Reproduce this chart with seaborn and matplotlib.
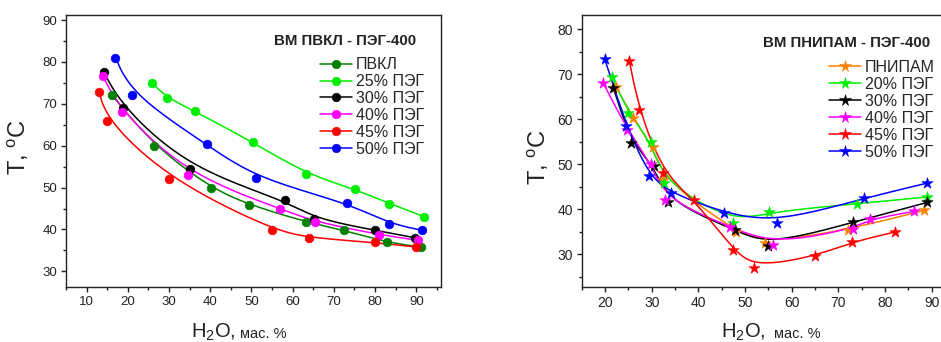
import numpy as np
import matplotlib
matplotlib.use("Agg")
import matplotlib.pyplot as plt
from matplotlib.lines import Line2D
from matplotlib.ticker import MultipleLocator
import seaborn as sns

# ---- left panel: ВМ ПВКЛ - ПЭГ-400 ----
pvkl_x = [16.1, 26.3, 40.1, 49.4, 63.2, 72.5, 83.0, 91.2]
pvkl_y = [72.1, 60.0, 49.9, 45.9, 41.8, 39.8, 36.9, 35.8]
peg25_x = [25.8, 29.6, 36.3, 50.4, 63.2, 75.1, 83.5, 91.8]
peg25_y = [75.0, 71.4, 68.2, 60.8, 53.3, 49.6, 46.2, 43.1]
l_peg30_x = [14.2, 18.9, 35.1, 58.1, 65.2, 80.1, 89.8]
l_peg30_y = [77.5, 68.9, 54.5, 47.0, 42.6, 39.8, 38.0]
l_peg40_x = [13.9, 18.5, 34.5, 56.9, 65.4, 80.9, 90.4]
l_peg40_y = [76.6, 68.1, 53.1, 45.0, 41.8, 38.8, 37.4]
l_peg45_x = [13.0, 15.0, 30.0, 55.0, 64.0, 80.1, 90.0]
l_peg45_y = [72.9, 65.9, 52.0, 39.9, 38.0, 36.9, 35.8]
l_peg50_x = [17.0, 21.0, 39.1, 51.1, 73.3, 83.4, 91.5]
l_peg50_y = [81.0, 72.2, 60.3, 52.2, 46.4, 41.4, 39.8]

# ---- right panel: ВМ ПНИПАМ - ПЭГ-400 ----
pnipam_x = [22.4, 26.1, 30.2, 32.5, 48.0, 54.3, 72.0, 88.4]
pnipam_y = [67.1, 60.2, 53.9, 46.5, 35.0, 32.4, 35.4, 39.7]
peg20_x = [21.6, 25.0, 29.9, 32.7, 47.4, 55.2, 74.1, 89.1]
peg20_y = [69.3, 61.3, 55.0, 45.8, 37.0, 39.4, 41.2, 42.7]
r_peg30_x = [21.8, 25.6, 30.5, 33.4, 47.9, 54.9, 73.2, 89.1]
r_peg30_y = [66.9, 54.8, 49.7, 41.6, 35.4, 31.9, 37.1, 41.5]
r_peg40_x = [19.6, 24.8, 29.9, 32.9, 46.8, 55.9, 73.1, 76.8, 86.3]
r_peg40_y = [68.1, 57.6, 50.1, 42.1, 36.1, 32.1, 35.6, 37.8, 39.5]
r_peg45_x = [25.2, 27.3, 32.4, 39.1, 47.5, 51.9, 65.0, 73.0, 82.1]
r_peg45_y = [73.0, 62.1, 48.0, 42.1, 31.0, 27.0, 29.5, 32.7, 34.9]
r_peg50_x = [19.9, 24.6, 29.5, 34.1, 45.6, 56.8, 75.4, 89.1]
r_peg50_y = [73.5, 58.4, 47.3, 43.6, 39.1, 37.0, 42.4, 45.8]

left_labels = ["ПВКЛ", "25% ПЭГ", "30% ПЭГ", "40% ПЭГ", "45% ПЭГ", "50% ПЭГ"]
left_colors = ["#008000", "#00ee00", "#000000", "#ff00ff", "#ff0000", "#0000ff"]
right_labels = ["ПНИПАМ", "20% ПЭГ", "30% ПЭГ", "40% ПЭГ", "45% ПЭГ", "50% ПЭГ"]
right_colors = ["#ff8000", "#00ee00", "#000000", "#ff00ff", "#ff0000", "#0000ff"]

left_series = [(pvkl_x, pvkl_y), (peg25_x, peg25_y), (l_peg30_x, l_peg30_y),
               (l_peg40_x, l_peg40_y), (l_peg45_x, l_peg45_y), (l_peg50_x, l_peg50_y)]
right_series = [(pnipam_x, pnipam_y), (peg20_x, peg20_y), (r_peg30_x, r_peg30_y),
                (r_peg40_x, r_peg40_y), (r_peg45_x, r_peg45_y), (r_peg50_x, r_peg50_y)]


def bspline(xs, ys, n=40):
    """Uniform cubic B-spline using the data points as control points (ends clamped)."""
    p = np.column_stack([xs, ys]).astype(float)
    p = np.vstack([p[:1], p[:1], p, p[-1:], p[-1:]])
    t = np.linspace(0, 1, n)[:, None]
    b0 = (1 - t) ** 3
    b1 = 3 * t ** 3 - 6 * t ** 2 + 4
    b2 = -3 * t ** 3 + 3 * t ** 2 + 3 * t + 1
    b3 = t ** 3
    segs = []
    for i in range(len(p) - 3):
        segs.append((b0 * p[i] + b1 * p[i + 1] + b2 * p[i + 2] + b3 * p[i + 3]) / 6)
    c = np.vstack(segs)
    return c[:, 0], c[:, 1]


sns.set_style("ticks")
plt.rcParams["font.family"] = ["Liberation Sans", "DejaVu Sans"]
plt.rcParams["mathtext.fontset"] = "custom"
plt.rcParams["mathtext.rm"] = "Liberation Sans"
plt.rcParams["mathtext.it"] = "Liberation Sans"

fig = plt.figure(figsize=(9.41, 3.42), dpi=100)
W, H = 941.0, 342.0
ax1 = fig.add_axes([66 / W, (H - 287.3) / H, 375 / W, 272.3 / H])
ax2 = fig.add_axes([581.7 / W, (H - 287.3) / H, 373.3 / W, 272.3 / H])

spine_col = "#222222"


def draw(ax, series, colors, marker, ms, mew):
    for (xs, ys), col in zip(series, colors):
        cx, cy = bspline(xs, ys)
        sns.lineplot(x=cx, y=cy, ax=ax, color=col, lw=1.1, sort=False,
                     estimator=None, zorder=2)
        sns.scatterplot(x=xs, y=ys, ax=ax, color=col, marker=marker, s=ms ** 2,
                        edgecolor=col, linewidth=mew, zorder=3)


draw(ax1, left_series, left_colors, "o", 6.2, 0.5)
draw(ax2, right_series, right_colors, "*", 8.5, 0.4)

ax1.set_xlim(5, 96)
ax1.set_ylim(26.2, 91.2)
ax1.xaxis.set_minor_locator(MultipleLocator(5))
ax1.yaxis.set_major_locator(MultipleLocator(10))
ax1.yaxis.set_minor_locator(MultipleLocator(5))
ax1.set_xticks(range(10, 91, 10))

ax2.set_xlim(15, 95)
ax2.set_ylim(22.6, 83.2)
ax2.xaxis.set_minor_locator(MultipleLocator(5))
ax2.yaxis.set_minor_locator(MultipleLocator(5))
ax2.set_xticks(range(20, 91, 10))
ax2.set_yticks(range(30, 81, 10))

for ax, fs in ((ax1, 9.5), (ax2, 10)):
    for sp in ax.spines.values():
        sp.set_color(spine_col)
        sp.set_linewidth(1.0)
        sp.set_visible(True)
    ax.tick_params(which="major", direction="out", length=3.5, width=1.0,
                   color=spine_col, labelsize=fs, labelcolor="#222222", pad=3)
    ax.tick_params(which="minor", direction="out", length=2.0, width=1.0,
                   color=spine_col)
    ax.tick_params(top=False, right=False, which="both")
    ax.set_xlabel("")
    ax.set_ylabel("")


def legend(ax, labels, colors, marker, ms, anchor):
    handles = [Line2D([0], [0], color=c, lw=1.1, marker=marker, ms=ms,
                      markeredgecolor=c, markeredgewidth=0.4) for c in colors]
    ax.legend(handles, labels, loc="upper left", bbox_to_anchor=anchor,
              frameon=False, borderpad=0, handlelength=2.0, handletextpad=0.25,
              labelspacing=0.12, fontsize=11.5, borderaxespad=0)


legend(ax1, left_labels, left_colors, "o", 6.2, (0.677, 0.845))
legend(ax2, right_labels, right_colors, "*", 8.5, (0.663, 0.835))

# panel titles
fig.text(274 / W, (H - 40.7) / H, "ВМ ПВКЛ - ПЭГ-400", fontsize=10.8,
         fontweight="bold", ha="left", va="center", color="#222222")
fig.text(763 / W, (H - 43) / H, "ВМ ПНИПАМ - ПЭГ-400", fontsize=10.8,
         fontweight="bold", ha="left", va="center", color="#222222")

# axis titles
fig.text(18 / W, (H - 147) / H, "T, $^o$C", fontsize=17, rotation=90,
         ha="center", va="center", color="#222222")
fig.text(538 / W, (H - 157) / H, "T, $^o$C", fontsize=17, rotation=90,
         ha="center", va="center", color="#222222")

for x0, x1 in ((191, 240), (720.7, 774)):
    fig.text(x0 / W, (H - 337.5) / H, "H$_2$O,", fontsize=14.5, ha="left",
             va="baseline", color="#222222")
    fig.text(x1 / W, (H - 337.5) / H, "мас. %", fontsize=10.5, ha="left",
             va="baseline", color="#222222")

fig.savefig("out.png", dpi=100, facecolor="white")
